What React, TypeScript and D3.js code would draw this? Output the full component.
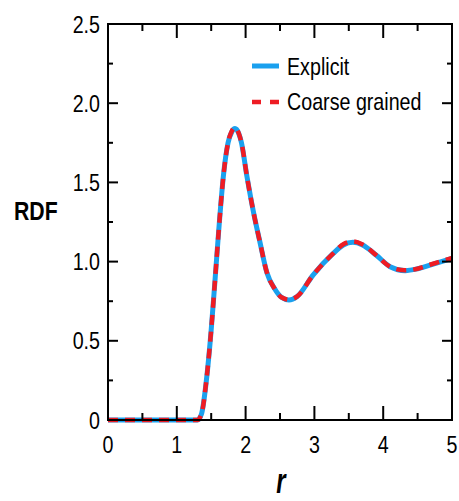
import React from "react";
import * as d3 from "d3";

const rValues = [0, 1.3, 1.36, 1.43, 1.5, 1.555, 1.61, 1.676, 1.745, 1.8, 1.846, 1.9, 1.94, 2.02, 2.12, 2.21, 2.31, 2.42, 2.52, 2.63, 2.75, 2.98, 3.27, 3.42, 3.56, 3.7, 3.9, 4.1, 4.32, 4.5, 4.68, 5.0];
const explicitValues = [0, 0, 0.04, 0.25, 0.57, 0.88, 1.2, 1.536, 1.75, 1.82, 1.84, 1.81, 1.75, 1.536, 1.3, 1.12, 0.93, 0.83, 0.775, 0.758, 0.78, 0.915, 1.05, 1.105, 1.122, 1.105, 1.04, 0.968, 0.943, 0.955, 0.978, 1.02];
const coarseValues = [0, 0, 0.04, 0.25, 0.57, 0.88, 1.2, 1.536, 1.75, 1.825, 1.845, 1.81, 1.75, 1.536, 1.3, 1.12, 0.93, 0.83, 0.775, 0.76, 0.78, 0.915, 1.05, 1.11, 1.127, 1.108, 1.04, 0.968, 0.945, 0.955, 0.98, 1.022];
const xTicks = [0, 1, 2, 3, 4, 5];
const xTickLabels = ["0", "1", "2", "3", "4", "5"];
const yTicks = [0, 0.5, 1.0, 1.5, 2.0, 2.5];
const yTickLabels = ["0", "0.5", "1.0", "1.5", "2.0", "2.5"];
const seriesNames = ["Explicit", "Coarse grained"];

const W = 459;
const H = 501;
const left = 108;
const right = 452;
const top = 24;
const bottom = 420;

const font = "'Liberation Sans', Arial, sans-serif";

function NText(props: {
  x: number;
  y: number;
  sx?: number;
  sy?: number;
  size: number;
  anchor?: string;
  weight?: string;
  italic?: boolean;
  children: React.ReactNode;
}) {
  const { x, y, sx = 0.82, sy = 1, size, anchor = "start", weight = "normal", italic = false, children } = props;
  return (
    <g transform={`translate(${x},${y}) scale(${sx},${sy})`}>
      <text
        x={0}
        y={0}
        textAnchor={anchor}
        fontFamily={font}
        fontSize={size}
        fontWeight={weight}
        fontStyle={italic ? "italic" : "normal"}
        fill="#000"
      >
        {children}
      </text>
    </g>
  );
}

export default function App() {
  const x = d3.scaleLinear().domain([0, 5]).range([left, right]);
  const y = d3.scaleLinear().domain([0, 2.5]).range([bottom, top]);
  const line = d3
    .line<number>()
    .x((_, i) => x(rValues[i]))
    .y((d) => y(d))
    .curve(d3.curveMonotoneX);

  const xMinor = d3.range(0, 5.01, 0.5).filter((v) => !xTicks.includes(v));
  const yMinor = d3.range(0, 2.51, 0.25).filter((v) => !yTicks.some((t) => Math.abs(t - v) < 1e-6));

  const blue = "#1aa0ee";
  const red = "#ee1c24";

  return (
    <svg width={W} height={H} style={{ position: "absolute", left: 0, top: 0 }}>
      <rect x={0} y={0} width={W} height={H} fill="#fff" />
      {/* curves */}
      <path d={line(explicitValues) || ""} fill="none" stroke={blue} strokeWidth={5} />
      <path d={line(coarseValues) || ""} fill="none" stroke={red} strokeWidth={4.5} strokeDasharray="10,7" />

      {/* frame */}
      <rect x={left} y={top} width={right - left} height={bottom - top} fill="none" stroke="#000" strokeWidth={2} />

      {/* x ticks bottom & top */}
      {xTicks.map((t) => (
        <g key={"xt" + t}>
          <line x1={x(t)} x2={x(t)} y1={bottom} y2={bottom - 14} stroke="#000" strokeWidth={2} />
          <line x1={x(t)} x2={x(t)} y1={top} y2={top + 14} stroke="#000" strokeWidth={2} />
        </g>
      ))}
      {xMinor.map((t) => (
        <g key={"xm" + t}>
          <line x1={x(t)} x2={x(t)} y1={bottom} y2={bottom - 7} stroke="#000" strokeWidth={2} />
          <line x1={x(t)} x2={x(t)} y1={top} y2={top + 7} stroke="#000" strokeWidth={2} />
        </g>
      ))}
      {/* y ticks left & right */}
      {yTicks.map((t) => (
        <g key={"yt" + t}>
          <line x1={left} x2={left + 10} y1={y(t)} y2={y(t)} stroke="#000" strokeWidth={2} />
          <line x1={right} x2={right - 10} y1={y(t)} y2={y(t)} stroke="#000" strokeWidth={2} />
        </g>
      ))}
      {yMinor.map((t) => (
        <g key={"ym" + t}>
          <line x1={left} x2={left + 5} y1={y(t)} y2={y(t)} stroke="#000" strokeWidth={2} />
          <line x1={right} x2={right - 5} y1={y(t)} y2={y(t)} stroke="#000" strokeWidth={2} />
        </g>
      ))}

      {/* tick labels */}
      {xTicks.map((t, i) => (
        <NText key={"xl" + t} x={x(t)} y={453} size={24} anchor="middle">
          {xTickLabels[i]}
        </NText>
      ))}
      {yTicks.map((t, i) => (
        <NText key={"yl" + t} x={100} y={y(t) + 8.5} size={24} anchor="end">
          {yTickLabels[i]}
        </NText>
      ))}

      {/* axis titles */}
      <NText x={14} y={219.5} size={25} sx={0.85} weight="bold">
        RDF
      </NText>
      <NText x={281} y={493} size={30} sx={0.8} sy={1.15} weight="bold" italic anchor="middle">
        r
      </NText>

      {/* legend */}
      <line x1={252} x2={279} y1={66} y2={66} stroke={blue} strokeWidth={5} />
      <NText x={287} y={74.5} size={24}>
        {seriesNames[0]}
      </NText>
      <line x1={252} x2={279} y1={102} y2={102} stroke={red} strokeWidth={4.5} strokeDasharray="9,9" />
      <NText x={287} y={110} size={24}>
        {seriesNames[1]}
      </NText>
    </svg>
  );
}
